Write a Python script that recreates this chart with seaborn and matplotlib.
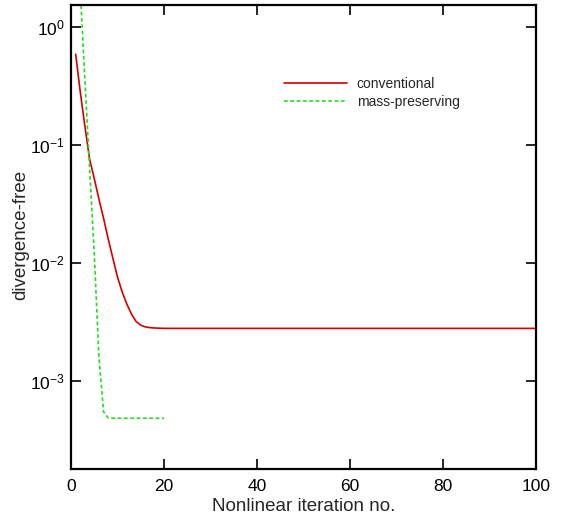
import numpy as np
import pandas as pd
import seaborn as sns
import matplotlib
matplotlib.use("Agg")
import matplotlib.pyplot as plt
from matplotlib.ticker import FixedLocator, NullLocator

# Data
conv_iter = list(range(1, 101))
conv_vals = [0.59, 0.28, 0.143, 0.076, 0.052, 0.035, 0.024, 0.016, 0.011, 0.0076,
             0.0057, 0.0045, 0.0037, 0.0032, 0.00298, 0.00288, 0.00284, 0.00282, 0.00281] + [0.0028] * 81

mp_iter = list(range(1, 21))
mp_vals = [11.0, 2.0, 0.35, 0.063, 0.012, 0.0016, 0.00055, 0.000487, 0.000485, 0.000485,
           0.000485, 0.000485, 0.000485, 0.000485, 0.000485, 0.000485, 0.000485, 0.000485,
           0.000485, 0.000485]

series_names = ["conventional", "mass-preserving"]
x_ticks = [0, 20, 40, 60, 80, 100]
y_ticks = [1e-3, 1e-2, 1e-1, 1e0]
y_tick_labels = [r"10$^{-3}$", r"10$^{-2}$", r"10$^{-1}$", r"10$^{0}$"]

df = pd.concat([
    pd.DataFrame({"iter": conv_iter, "val": conv_vals, "series": series_names[0]}),
    pd.DataFrame({"iter": mp_iter, "val": mp_vals, "series": series_names[1]}),
])

sns.set_style("ticks")
plt.rcParams["font.family"] = ["Liberation Sans", "DejaVu Sans"]
plt.rcParams["mathtext.fontset"] = "custom"
plt.rcParams["mathtext.rm"] = "Liberation Sans"
plt.rcParams["mathtext.it"] = "Liberation Sans"
plt.rcParams["mathtext.default"] = "regular"

fig = plt.figure(figsize=(5.65, 5.17), dpi=100)
ax = fig.add_axes([0.1257, 0.0928, 0.823, 0.8975])

sns.lineplot(data=df, x="iter", y="val", hue="series", style="series",
             palette={series_names[0]: "#d40000", series_names[1]: "#22dd22"},
             dashes={series_names[0]: "", series_names[1]: (2.2, 1.6)},
             linewidth=1.2, ax=ax, legend=True)

ax.set_yscale("log")
ax.set_xlim(0, 100)
ax.set_ylim(1.8e-4, 1.54)
ax.xaxis.set_major_locator(FixedLocator(x_ticks))
ax.yaxis.set_major_locator(FixedLocator(y_ticks))
ax.yaxis.set_minor_locator(NullLocator())
ax.set_yticklabels(y_tick_labels)
ax.tick_params(direction="in", length=7, width=1.2, top=True, right=True,
               labelsize=12.5, colors="black")
ax.tick_params(axis="x", pad=7)
ax.tick_params(axis="y", pad=4.5)
for s in ax.spines.values():
    s.set_linewidth(1.6)
    s.set_color("black")

ax.set_xlabel("Nonlinear iteration no.", fontsize=13.5)
ax.set_ylabel("divergence-free", fontsize=13.5)
ax.xaxis.set_label_coords(0.5, -0.063)
ax.yaxis.set_label_coords(-0.090, 0.504)

leg = ax.legend(loc="upper left", bbox_to_anchor=(0.459, 0.845), frameon=False,
                fontsize=10, handlelength=4.5, handletextpad=0.7, labelspacing=0.3,
                borderaxespad=0, borderpad=0)

fig.savefig("out.png", dpi=100)
